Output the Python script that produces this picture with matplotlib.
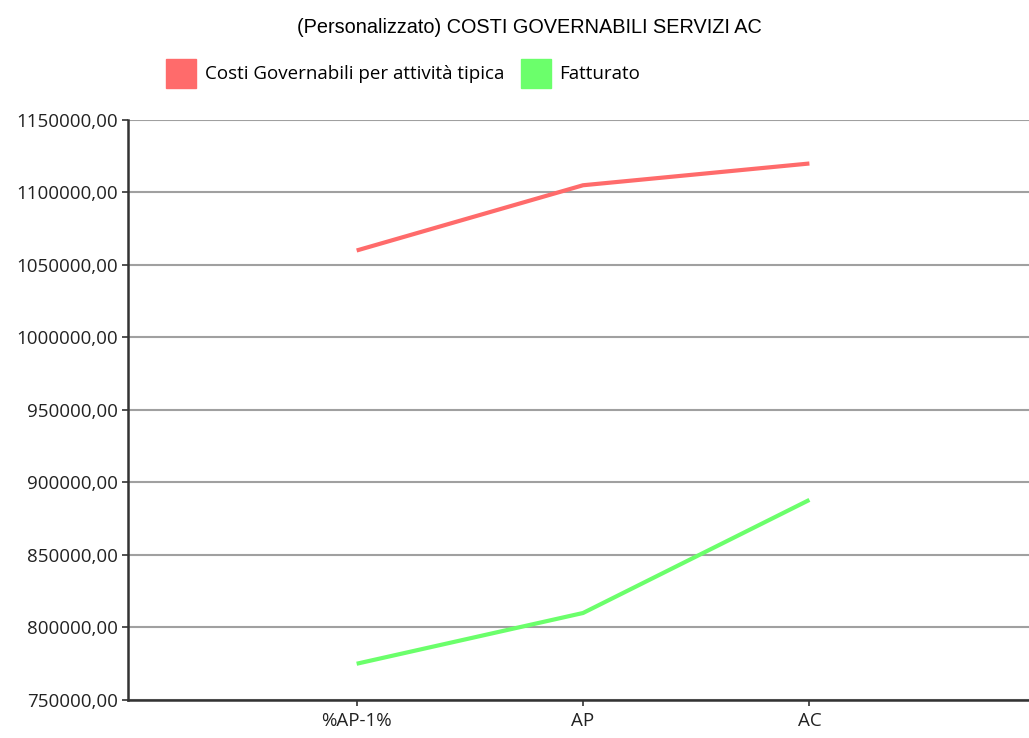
import matplotlib.pyplot as plt
from matplotlib.patches import Patch
from matplotlib.ticker import FuncFormatter, MultipleLocator

# data
categories = ['%AP-1%', 'AP', 'AC']
costi = [1060000, 1105000, 1120000]
fatturato = [775000, 810000, 888000]

red = '#ff6b6b'
green = '#6bff6b'

fig = plt.figure(figsize=(10.29, 7.38), dpi=100)
ax = fig.add_axes([0.1244, 0.0515, 0.8756, 0.7859])

x = range(len(categories))
ax.plot(x, costi, color=red, lw=3, solid_capstyle='butt', zorder=3)
ax.plot(x, fatturato, color=green, lw=3, solid_capstyle='butt', zorder=3)

ax.set_xlim(-1.01, 2.97)
ax.set_ylim(750000, 1150000)
ax.set_xticks(list(x))
ax.set_xticklabels(categories)
ax.yaxis.set_major_locator(MultipleLocator(50000))
ax.yaxis.set_major_formatter(FuncFormatter(lambda v, p: f"{v:.2f}".replace('.', ',')))

ax.grid(axis='y', color='#a0a0a0', lw=1.5)
ax.set_axisbelow(True)
for s in ['top', 'right']:
    ax.spines[s].set_visible(False)
for s in ['left', 'bottom']:
    ax.spines[s].set_color('#333333')
    ax.spines[s].set_linewidth(1.8)
ax.tick_params(axis='both', length=4, width=1.2, color='#333333',
               labelsize=13.5, labelcolor='#222222')
for lab in ax.get_xticklabels() + ax.get_yticklabels():
    lab.set_family('Open Sans')
ax.tick_params(axis='x', pad=5)
ax.tick_params(axis='y', pad=3)

fig.text(0.514, 0.963, '(Personalizzato) COSTI GOVERNABILI SERVIZI AC',
         ha='center', va='center', fontsize=14.3, family='Liberation Sans')

handles = [Patch(color=red, label='Costi Governabili per attività tipica'),
           Patch(color=green, label='Fatturato')]
fig.legend(handles=handles, loc='center', bbox_to_anchor=(0.392, 0.901), ncol=2,
           frameon=False, prop={'family': 'Open Sans', 'size': 13.5},
           handlelength=1.6, handleheight=2.0, handletextpad=0.45, columnspacing=0.9)

fig.savefig('out.png', dpi=100)
